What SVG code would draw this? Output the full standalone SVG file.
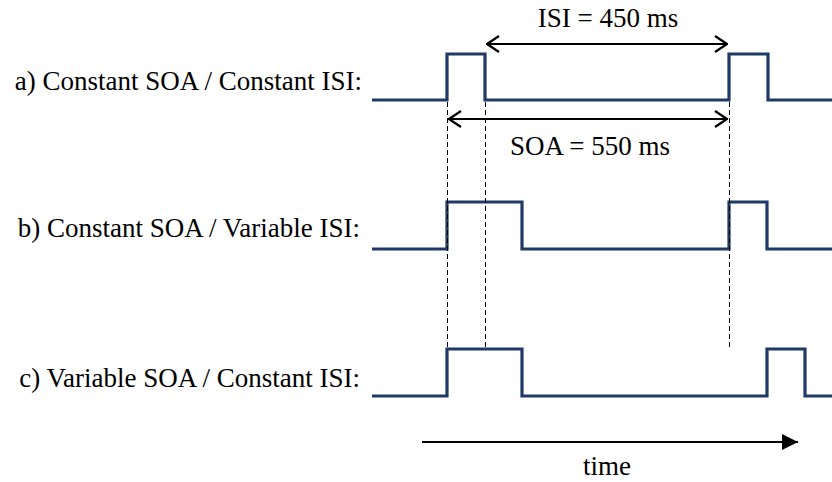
<svg xmlns="http://www.w3.org/2000/svg" width="832" height="482" viewBox="0 0 832 482">
<defs>
<style>
text{font-family:"Liberation Serif","Times New Roman",serif;font-size:27px;fill:#000}
.wave{fill:none;stroke:#1f3a66;stroke-width:3.2;stroke-linejoin:miter}
.dash{stroke:#000;stroke-width:1;stroke-dasharray:5,3;fill:none}
.dim{stroke:#000;stroke-width:2;fill:none}
</style>
<marker id="open" viewBox="0 0 14 18" refX="13" refY="9" markerWidth="14" markerHeight="18" markerUnits="userSpaceOnUse" orient="auto-start-reverse">
<path d="M1,1 L13,9 L1,17" fill="none" stroke="#000" stroke-width="2.2"/>
</marker>
<marker id="solid" viewBox="0 0 16 16" refX="16" refY="8" markerWidth="16" markerHeight="16" markerUnits="userSpaceOnUse" orient="auto">
<path d="M0,0 L16,8 L0,16 Z" fill="#000"/>
</marker>
</defs>
<rect width="832" height="482" fill="#fff"/>
<g id="labels">
<text x="362" y="90" text-anchor="end">a) Constant SOA / Constant ISI:</text>
<text x="360" y="237" text-anchor="end">b) Constant SOA / Variable ISI:</text>
<text x="360" y="387" text-anchor="end">c) Variable SOA / Constant ISI:</text>
</g>
<g id="wave-a">
<polyline class="wave" points="372,100 447,100 447,54 485,54 485,100 729,100 729,54 768,54 768,100 832,100"/>
</g>
<g id="wave-b">
<polyline class="wave" points="372,249 447,249 447,202 522,202 522,249 729,249 729,202 767,202 767,249 832,249"/>
</g>
<g id="wave-c">
<polyline class="wave" points="372,396 447,396 447,349 522,349 522,396 767,396 767,349 805,349 805,396 832,396"/>
</g>
<g id="connectors">
<line class="dash" x1="447.5" y1="102" x2="447.5" y2="348"/>
<line class="dash" x1="485.5" y1="102" x2="485.5" y2="348"/>
<line class="dash" x1="729.5" y1="102" x2="729.5" y2="348"/>
<line class="dim" x1="487" y1="44" x2="727" y2="44" marker-start="url(#open)" marker-end="url(#open)"/>
<line class="dim" x1="449" y1="119" x2="727" y2="119" marker-start="url(#open)" marker-end="url(#open)"/>
<line class="dim" x1="422" y1="442" x2="798" y2="442" marker-end="url(#solid)"/>
</g>
<g id="annotations">
<text x="608" y="27" text-anchor="middle">ISI = 450 ms</text>
<text x="590" y="155" text-anchor="middle">SOA = 550 ms</text>
<text x="607" y="475" text-anchor="middle">time</text>
</g>
</svg>
